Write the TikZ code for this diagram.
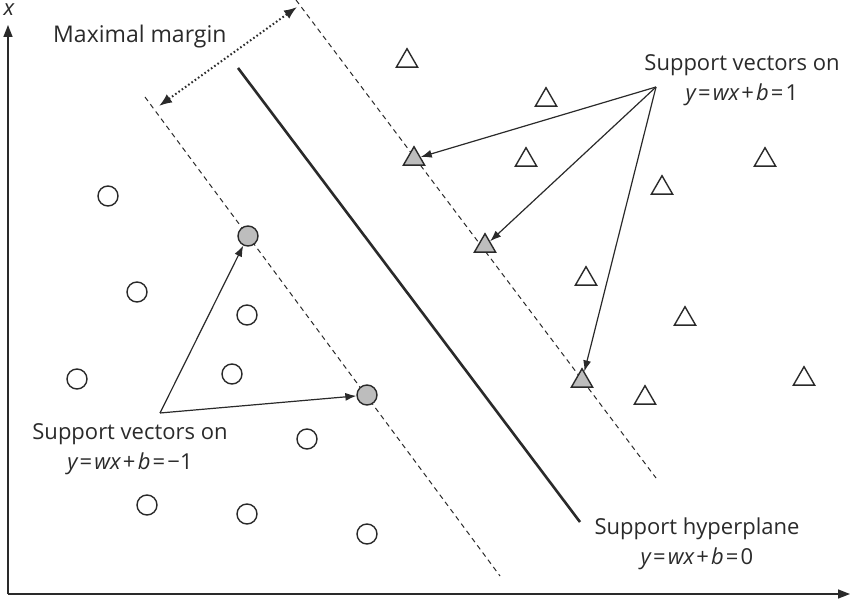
\documentclass[tikz,border=0pt]{standalone}
\usepackage{fontspec}
\setmainfont{Open Sans}
\usetikzlibrary{arrows.meta,shapes.geometric}
\definecolor{ink}{HTML}{2A2A2A}
\definecolor{svfill}{HTML}{BDBDBD}
\newcommand{\eqsp}{\hspace{2.2pt}}
\begin{document}
\begin{tikzpicture}[x=1pt,y=-1pt,
  every node/.style={text=ink},
  lbl/.style={font=\fontsize{22}{30}\selectfont, align=center, inner sep=0pt},
  pt/.style={circle, draw=ink, line width=1.4pt, minimum size=20pt, inner sep=0pt, fill=white},
  svpt/.style={pt, fill=svfill},
  tri/.style={regular polygon, regular polygon sides=3, draw=ink, line width=1.4pt, minimum size=24.5pt, inner sep=0pt, fill=white},
  svtri/.style={tri, fill=svfill},
  axis/.style={draw=ink, line width=1.6pt, -{Triangle[length=12pt,width=9pt]}},
  margin/.style={draw=ink, line width=1pt, dash pattern=on 5pt off 4pt},
  plane/.style={draw=ink, line width=2.6pt},
  pointer/.style={draw=ink, line width=1.2pt, -{Latex[length=11pt,width=8pt]}},
  gap/.style={draw=ink, line width=2pt, dash pattern=on 1.6pt off 2.4pt, {Latex[length=13pt,width=10pt]}-{Latex[length=13pt,width=10pt]}}
]
\useasboundingbox (0,0) rectangle (850,601);
% axes
\coordinate (o) at (8,594);
\coordinate (ytip) at (8,25);
\coordinate (xtip) at (850,594);
\draw[axis] (o) -- (ytip);
\draw[axis] (o) -- (xtip);
\node[lbl] (xlab) at (9,10) {\itshape x};
% lines
\coordinate (ld1) at (145,97);  \coordinate (ld2) at (500,576);
\coordinate (rd1) at (296,0);   \coordinate (rd2) at (656,478);
\coordinate (hp1) at (238,68);  \coordinate (hp2) at (580,522);
\draw[margin] (ld1) -- (ld2);
\draw[margin] (rd1) -- (rd2);
\draw[plane] (hp1) -- (hp2);
% maximal margin
\coordinate (mm1) at (159,106);
\coordinate (mm2) at (297,7);
\draw[gap] (mm1) -- (mm2);
\node[lbl, anchor=base west, font=\fontsize{23}{30}\selectfont] (mmlab) at (53,43) {Maximal margin};
% circles
\node[pt] (c1) at (108,196) {};
\node[pt] (c2) at (137,292) {};
\node[pt] (c3) at (247,315) {};
\node[pt] (c4) at (77,379) {};
\node[pt] (c5) at (232,374) {};
\node[pt] (c6) at (307,439) {};
\node[pt] (c7) at (147,505) {};
\node[pt] (c8) at (247,514) {};
\node[pt] (c9) at (367,534) {};
\node[svpt] (sc1) at (248,236) {};
\node[svpt] (sc2) at (367,395) {};
% triangles
\node[tri] (t1) at (407,61) {};
\node[tri] (t2) at (546,100) {};
\node[tri] (t3) at (526,160) {};
\node[tri] (t4) at (662,188) {};
\node[tri] (t5) at (765,160) {};
\node[tri] (t6) at (586,279) {};
\node[tri] (t7) at (685,319) {};
\node[tri] (t8) at (804,379) {};
\node[tri] (t9) at (645,398) {};
\node[svtri] (st1) at (414,159) {};
\node[svtri] (st2) at (485,246) {};
\node[svtri] (st3) at (582,381) {};
% labels
\node[lbl] (rlab) at (742,80) {Support vectors on\\{\itshape y}\eqsp=\eqsp{\itshape wx}\eqsp+\eqsp{\itshape b}\eqsp=\eqsp1};
\node[lbl] (llab) at (130,449) {Support vectors on\\{\itshape y}\eqsp=\eqsp{\itshape wx}\eqsp+\eqsp{\itshape b}\eqsp=\eqsp−1};
\node[lbl] (hlab) at (697,544) {Support hyperplane\\{\itshape y}\eqsp=\eqsp{\itshape wx}\eqsp+\eqsp{\itshape b}\eqsp=\eqsp0};
% pointers
\coordinate (rs) at (656,87);
\coordinate (ls) at (160,413);
\draw[pointer] (rs) -- (st1);
\draw[pointer] (rs) -- (st2);
\draw[pointer] (rs) -- (st3);
\draw[pointer] (ls) -- (sc1);
\draw[pointer] (ls) -- (sc2);
\end{tikzpicture}
\end{document}
